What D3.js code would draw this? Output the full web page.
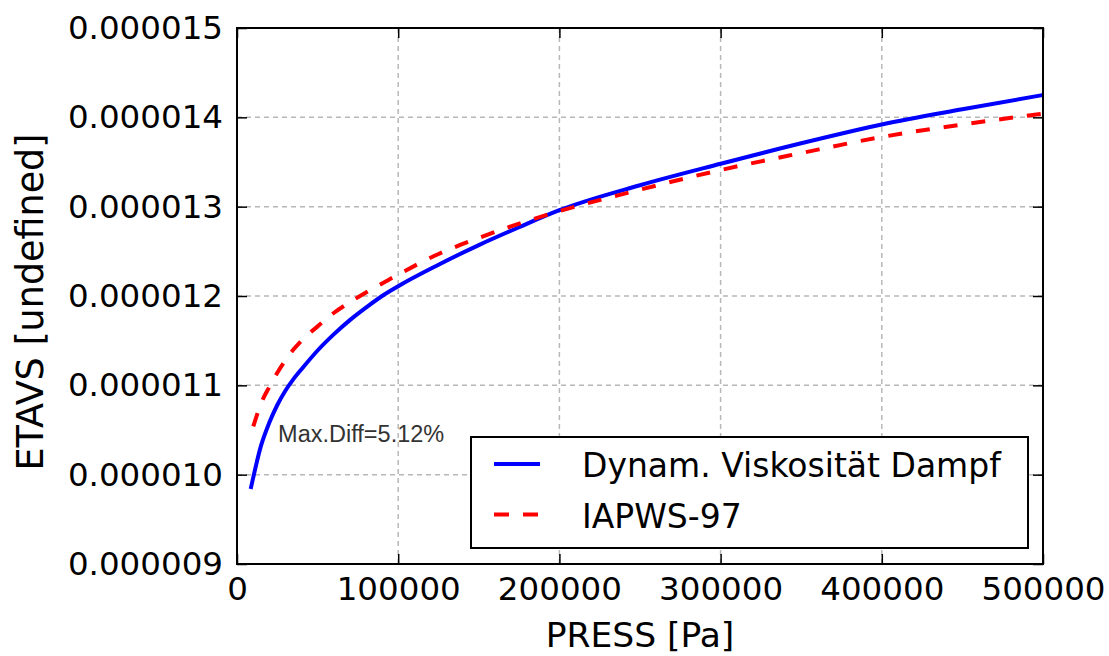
<!DOCTYPE html>
<html>
<head>
<meta charset="utf-8">
<script src="https://cdn.jsdelivr.net/npm/d3@7"></script>
<style>
  html, body { margin: 0; padding: 0; background: #fff; }
  svg { display: block; font-family: "DejaVu Sans", sans-serif; }
</style>
</head>
<body>
<div id="chart"></div>
<script>
"use strict";

/* ── Data ── */
const pressureModel = [8500, 15000, 20000, 25000, 30000, 35000, 40000, 50000, 60000, 70000, 80000, 90000,
                       100000, 125000, 150000, 175000, 200000, 250000, 300000, 350000, 400000, 450000, 500000];
const etaModel      = [9.84, 10.33, 10.58, 10.78, 10.94, 11.07, 11.18, 11.39, 11.57, 11.73, 11.87, 12.00,
                       12.11, 12.35, 12.57, 12.77, 12.96, 13.24, 13.48, 13.71, 13.92, 14.09, 14.25].map(v => v * 1e-6);

const pressureIAPWS = [10100, 15000, 20000, 25000, 30000, 35000, 40000, 50000, 60000, 70000, 80000, 90000,
                       100000, 125000, 150000, 175000, 200000, 250000, 300000, 350000, 400000, 450000, 500000];
const etaIAPWS      = [10.54, 10.80, 10.98, 11.14, 11.28, 11.40, 11.50, 11.66, 11.81, 11.93, 12.04, 12.14,
                       12.24, 12.47, 12.65, 12.81, 12.95, 13.19, 13.41, 13.60, 13.78, 13.92, 14.04].map(v => v * 1e-6);

const xTicks = [0, 100000, 200000, 300000, 400000, 500000];
const yTicks = [9e-6, 10e-6, 11e-6, 12e-6, 13e-6, 14e-6, 15e-6];

const seriesNames = ["Dynam. Viskosität Dampf", "IAPWS-97"];
const annotation  = { text: "Max.Diff=5.12%", x: 25500, y: 10.37e-6 };

/* ── Dimensions ── */
const W = 1109, H = 656;
const plot = { left: 237, right: 1043, top: 28, bottom: 564 };

const x = d3.scaleLinear().domain([0, 500000]).range([plot.left, plot.right]);
const y = d3.scaleLinear().domain([9e-6, 15e-6]).range([plot.bottom, plot.top]);

const svg = d3.select("#chart").append("svg")
  .attr("width", W).attr("height", H);

/* ── Grid ── */
const grid = svg.append("g").attr("stroke", "#b8b8b8")
  .attr("stroke-width", 1.5).attr("stroke-dasharray", "5,4");

grid.selectAll("line.gx").data(xTicks.slice(1, -1)).join("line")
  .attr("x1", d => x(d)).attr("x2", d => x(d))
  .attr("y1", plot.top).attr("y2", plot.bottom);

grid.selectAll("line.gy").data(yTicks.slice(1, -1)).join("line")
  .attr("y1", d => y(d)).attr("y2", d => y(d))
  .attr("x1", plot.left).attr("x2", plot.right);

/* ── Lines ── */
const line = d3.line().curve(d3.curveMonotoneX);

svg.append("path")
  .attr("d", line(pressureModel.map((p, i) => [x(p), y(etaModel[i])])))
  .attr("fill", "none").attr("stroke", "#0000ff")
  .attr("stroke-width", 4);

svg.append("path")
  .attr("d", line(pressureIAPWS.map((p, i) => [x(p), y(etaIAPWS[i])])))
  .attr("fill", "none").attr("stroke", "#ff0000")
  .attr("stroke-width", 4).attr("stroke-dasharray", "14,14");

/* ── Axes (inward ticks on all sides) ── */
function styleAxis(g) {
  g.select(".domain").remove();
  g.selectAll(".tick line").attr("stroke", "#000").attr("stroke-width", 1.5);
  g.selectAll(".tick text").attr("fill", "#000")
    .attr("font-family", "'DejaVu Sans', sans-serif").attr("font-size", "32.5px");
}

svg.append("g").attr("transform", `translate(0,${plot.bottom})`)
  .call(d3.axisBottom(x).tickValues(xTicks).tickFormat(d3.format("d"))
    .tickSizeInner(-10).tickSizeOuter(0).tickPadding(13))
  .call(styleAxis);

svg.append("g").attr("transform", `translate(0,${plot.top})`)
  .call(d3.axisTop(x).tickValues(xTicks).tickFormat("")
    .tickSizeInner(-10).tickSizeOuter(0))
  .call(styleAxis);

svg.append("g").attr("transform", `translate(${plot.left},0)`)
  .call(d3.axisLeft(y).tickValues(yTicks).tickFormat(d3.format(".6f"))
    .tickSizeInner(-10).tickSizeOuter(0).tickPadding(14))
  .call(styleAxis);

svg.append("g").attr("transform", `translate(${plot.right},0)`)
  .call(d3.axisRight(y).tickValues(yTicks).tickFormat("")
    .tickSizeInner(-10).tickSizeOuter(0))
  .call(styleAxis);

/* ── Frame ── */
svg.append("rect")
  .attr("x", plot.left).attr("y", plot.top)
  .attr("width", plot.right - plot.left).attr("height", plot.bottom - plot.top)
  .attr("fill", "none").attr("stroke", "#000").attr("stroke-width", 2);

/* ── Axis labels ── */
svg.append("text")
  .attr("x", (plot.left + plot.right) / 2).attr("y", 647)
  .attr("text-anchor", "middle").attr("font-size", "34.5px").attr("fill", "#000")
  .text("PRESS [Pa]");

svg.append("text")
  .attr("transform", `translate(43,${(plot.top + plot.bottom) / 2 + 6}) rotate(-90)`)
  .attr("text-anchor", "middle").attr("font-size", "36.5px").attr("fill", "#000")
  .text("ETAVS [undefined]");

/* ── Annotation ── */
svg.append("text")
  .attr("x", x(annotation.x)).attr("y", y(annotation.y))
  .attr("font-family", "'Liberation Sans', Arial, sans-serif")
  .attr("font-size", "23.5px").attr("fill", "#333")
  .text(annotation.text);

/* ── Legend ── */
const legend = svg.append("g");
legend.append("rect")
  .attr("x", 471).attr("y", 437).attr("width", 557).attr("height", 111)
  .attr("fill", "#fff").attr("stroke", "#000").attr("stroke-width", 2);

const legendStyles = [
  { colour: "#0000ff", dash: null },
  { colour: "#ff0000", dash: "15,14" }
];

seriesNames.forEach((name, i) => {
  const row = legend.append("g").attr("transform", `translate(0,${464 + i * 50.5})`);
  row.append("line")
    .attr("x1", 494).attr("x2", 540).attr("y1", 0).attr("y2", 0)
    .attr("stroke", legendStyles[i].colour).attr("stroke-width", 4)
    .attr("stroke-dasharray", legendStyles[i].dash);
  row.append("text")
    .attr("x", 582).attr("y", 13)
    .attr("font-size", "33px").attr("fill", "#000")
    .text(name);
});
</script>
</body>
</html>
